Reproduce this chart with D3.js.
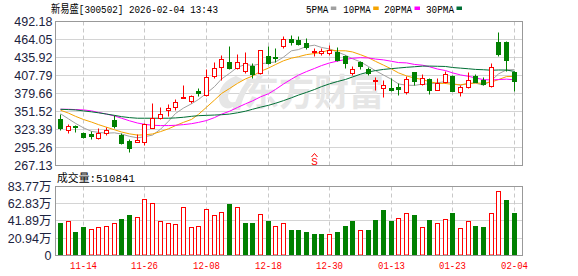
<!DOCTYPE html>
<html><head><meta charset="utf-8">
<script src="https://cdn.jsdelivr.net/npm/d3@7"></script>
<style>body{margin:0;background:#fff}svg{display:block}</style>
</head><body><svg id="c" width="578" height="276"></svg>
<script>
const title = "新易盛[300502] 2026-02-04 13:43";
const volTitle = "成交量:510841";
const maNames = ["5PMA","10PMA","20PMA","30PMA"];
const dates = ["11-11","11-12","11-13","11-14","11-17","11-18","11-19","11-20","11-21","11-24","11-25","11-26","11-27","11-28",
"12-01","12-02","12-03","12-04","12-05","12-08","12-09","12-10","12-11","12-12","12-15","12-16","12-17","12-18","12-19","12-22","12-23","12-24","12-25","12-26","12-29","12-30","12-31",
"01-05","01-06","01-07","01-08","01-09","01-12","01-13","01-14","01-15","01-16","01-19","01-20","01-21","01-22","01-23","01-26","01-27","01-28","01-29","01-30",
"02-02","02-03","02-04"];
const open  = [339.8,321.6,328.8,317.9,314.8,309.0,316.9,338.2,314.3,305.4,303.8,303.8,325.2,340.3,353.3,357.5,372.5,366.9,382.5,376.8,405.9,420.0,428.3,419.0,413.8,421.6,411.1,438.2,436.2,452.8,464.8,462.2,458.0,443.4,442.9,442.4,444.0,437.2,411.1,427.8,416.4,398.5,387.7,386.7,388.3,381.5,411.7,394.0,401.8,384.1,397.1,407.0,381.5,389.2,406.0,399.7,390.3,458.6,458.6,412.2];
const high  = [347.1,331.4,329.8,319.0,320.0,325.7,326.8,344.5,317.4,308.5,316.3,333.0,364.8,358.5,361.7,369.5,392.9,377.3,386.7,417.4,427.8,439.8,452.8,440.8,444.0,426.8,447.6,452.8,450.2,468.5,470.0,468.5,465.3,450.2,450.2,455.4,451.8,438.8,421.6,429.4,420.5,405.0,399.2,403.4,395.5,406.0,412.5,410.1,402.5,403.4,414.8,407.5,392.9,413.2,410.1,404.9,425.8,474.7,461.7,413.7];
const low   = [322.6,316.9,318.9,309.6,308.0,308.0,314.3,325.2,300.7,287.2,302.8,298.1,324.7,338.7,343.9,353.3,372.1,363.7,375.7,375.7,403.3,399.7,416.4,417.4,411.1,403.3,410.1,424.2,428.3,450.2,455.4,455.4,448.7,437.2,438.8,438.8,429.4,419.0,407.5,417.4,408.5,384.0,373.6,383.0,376.3,378.3,392.9,392.4,377.8,384.1,395.5,382.5,375.7,387.2,396.6,392.9,388.3,437.2,414.8,382.5];
const close = [325.2,328.3,326.2,310.6,312.2,317.4,322.1,328.8,301.2,293.9,305.9,331.4,340.8,347.1,356.5,366.3,373.6,374.7,380.4,404.9,418.4,433.0,419.0,428.3,426.8,409.6,446.6,426.8,435.1,464.3,459.1,456.0,451.8,445.0,444.8,447.6,432.0,426.8,417.4,421.6,411.1,399.5,392.9,384.1,385.6,400.8,398.2,403.4,384.1,395.5,410.1,383.5,389.2,399.7,396.6,394.5,420.5,440.3,431.0,398.7];
const firstPrevClose = 330;
const volume = [38.9,41.3,29.1,34.0,32.4,35.2,36.4,39.7,44.9,48.6,47.0,68.8,64.0,42.1,39.7,38.5,59.1,34.8,36.0,56.7,49.4,53.0,62.7,59.1,39.7,39.7,50.6,41.3,36.0,39.7,30.4,30.4,29.1,25.5,25.5,26.3,29.1,36.4,41.3,31.2,30.4,43.7,55.8,41.3,45.8,51.8,48.6,35.2,43.7,39.7,44.9,51.0,32.8,42.1,36.4,35.2,51.8,78.6,66.8,51.08];
const ma5  = [348,340,333,326,320.5,318.9,317.7,318.2,316.3,312.7,310.4,312.2,314.6,323.8,336.3,348.4,356.9,363.6,370.3,380.0,390.4,402.3,411.1,420.7,425.1,423.3,426.1,427.6,429.0,436.5,446.4,448.3,453.3,455.2,451.6,449.3,444.5,439.5,434.0,429.1,421.8,415.3,408.5,401.8,394.6,392.6,392.3,394.4,394.4,396.4,398.3,395.3,392.5,395.6,395.8,392.7,400.1,410.3,416.6,417.0];
const ma10 = [353.5,349,344,339,335,331,327,323,319.5,316.6,314.7,315.0,316.4,320.1,324.5,329.4,334.6,339.1,347.1,358.2,369.4,379.6,387.4,395.5,402.5,406.9,414.2,419.4,424.9,430.8,434.9,437.2,440.4,442.1,444.0,447.8,446.4,446.4,444.6,440.3,435.5,429.9,424.0,417.9,411.9,407.2,403.8,401.5,398.1,395.5,395.4,393.8,393.4,395.0,396.1,395.5,397.7,401.4,406.1,406.4];
const ma20 = [355,355,354.5,354,352.5,350,347.5,344.5,341,337,333.5,331.5,330,329.5,329.5,330,331,332.5,334.5,337.4,342.0,347.3,351.9,357.8,363.5,368.1,374.4,379.3,386.0,394.5,402.1,408.4,413.9,418.8,423.3,427.4,430.3,432.9,434.7,435.6,435.2,433.5,432.2,430.0,428.0,427.5,425.1,423.9,421.4,417.9,415.5,411.9,408.7,406.5,404.0,401.3,400.8,401.4,402.1,401.0];
const ma30 = [355,354.5,354,352.5,351,349.5,347.5,345.5,343.5,342,341,341,341,341,341,341.5,342.5,344,345,345.5,346,346.5,347.5,349.5,352,355,358.3,361.2,364.4,368.5,373.0,377.2,381.4,385.9,390.4,394.7,398.4,401.6,405.5,409.8,413.3,415.5,417.3,418.5,419.5,420.6,421.5,422.4,422.5,422.2,421.9,420.3,419.3,418.3,417.3,416.8,416.0,416.4,416.3,414.1];
const priceTicks = ["267.13","295.26","323.39","351.52","379.66","407.79","435.92","464.05","492.18"];
const volTicks = ["0","20.94万","41.89万","62.83万","83.77万"];
const xTickDates = ["11-14","11-26","12-08","12-18","12-30","01-13","01-23","02-04"];
const signals = [{date:"12-26", label:"S"}];

const RED="#ff0000", GREEN="#008000";
const maColors = ["#a0a0a0","#f5a300","#ff00ff","#006f35"];
const svg = d3.select("#c");
const L=55.5, R=522.5, PT=21.5, PB=165.5, VT=186.5, VB=255.5;

const x = d3.scaleBand().domain(dates).range([56.5, 518.2]);
const cx = d => Math.round(x(d) + x.bandwidth()/2 - 0.5);
const pv = priceTicks.map(Number);
const y = d3.scaleLinear().domain([pv[0], pv[pv.length-1]]).range([PB, PT]);
const vv = volTicks.map(s => parseFloat(s));
const yv = d3.scaleLinear().domain([vv[0], vv[vv.length-1]]).range([VB, VT]);
const py = v => Math.round(y(v)-0.5)+0.5;

// grid
const g = svg.append("g");
pv.slice(1,-1).forEach(v => g.append("line").attr("x1",L).attr("x2",R).attr("y1",py(v)).attr("y2",py(v)).attr("stroke","#d4d4d4"));
vv.slice(1,-1).forEach(v => { const yy=Math.round(yv(v)-0.5)+0.5; g.append("line").attr("x1",L).attr("x2",R).attr("y1",yy).attr("y2",yy).attr("stroke","#d4d4d4"); });
xTickDates.forEach(d => {
  const xx = cx(d)+0.5;
  [[PT,PB],[VT,VB]].forEach(([a,b]) => g.append("line").attr("x1",xx).attr("x2",xx).attr("y1",a).attr("y2",b)
    .attr("stroke","#c8c8c8").attr("stroke-dasharray","4,3"));
});

// watermark
const wm = svg.append("g").attr("fill","#e6e6e6");
wm.append("path").attr("d","M236,76 C222,80 214,96 222,106 C228,112 238,106 240,98 C236,104 228,104 228,96 C230,88 236,82 244,80 Z M246,82 C240,90 236,100 232,110 L240,110 C242,100 246,90 252,84 Z");
wm.append("text").attr("x",244).attr("y",106).attr("font-family","Noto Sans CJK SC").attr("font-weight","bold")
  .attr("font-size",37).attr("textLength",140).attr("lengthAdjust","spacingAndGlyphs").text("东方财富");

// MA lines
const mas = [ma5, ma10, ma20, ma30];
mas.forEach((arr,k) => {
  svg.append("path").datum(arr).attr("fill","none").attr("stroke",maColors[k]).attr("stroke-width",1)
    .attr("d", d3.line().x((d,i)=>cx(dates[i])+0.5).y(d=>y(d)));
});

// candles
const cg = svg.append("g");
dates.forEach((d,i) => {
  const up = close[i] >= open[i];
  const col = up ? RED : GREEN;
  const xx = cx(d);
  cg.append("line").attr("x1",xx+0.5).attr("x2",xx+0.5).attr("y1",py(high[i])).attr("y2",py(low[i])).attr("stroke",col);
  const top = py(Math.max(open[i],close[i])), bot = py(Math.min(open[i],close[i]));
  if (up) {
    cg.append("rect").attr("x",xx-2+0.5).attr("y",top).attr("width",4).attr("height",Math.max(1,bot-top))
      .attr("fill","#fff").attr("stroke",col);
  } else {
    cg.append("rect").attr("x",xx-2).attr("y",top-0.5).attr("width",5).attr("height",Math.max(1,bot-top+1)).attr("fill",col);
  }
});

// volume bars
const vg = svg.append("g");
dates.forEach((d,i) => {
  const prev = i===0 ? firstPrevClose : close[i-1];
  const up = close[i] >= prev;
  const xx = cx(d);
  const t = Math.round(yv(volume[i]));
  if (up) vg.append("rect").attr("x",xx-2+0.5).attr("y",t+0.5).attr("width",4).attr("height",VB-t-1).attr("fill","#fff").attr("stroke",RED);
  else vg.append("rect").attr("x",xx-2).attr("y",t).attr("width",5).attr("height",VB-t).attr("fill",GREEN);
});

// signal
signals.forEach(s => {
  const xx = cx(s.date)+0.5;
  svg.append("path").attr("d",`M${xx-3},157 L${xx},153.5 L${xx+3},157`).attr("fill","none").attr("stroke",RED);
  svg.append("text").attr("x",xx).attr("y",165).attr("text-anchor","middle").attr("fill",RED)
    .attr("font-family","Liberation Mono").attr("font-size",11).text(s.label);
});

// borders
svg.append("rect").attr("x",L).attr("y",PT).attr("width",R-L).attr("height",PB-PT).attr("fill","none").attr("stroke","#999");
svg.append("rect").attr("x",L).attr("y",VT).attr("width",R-L).attr("height",VB-VT).attr("fill","none").attr("stroke","#999");

// axes
const axFont = sel => sel.selectAll("text").attr("font-family","Liberation Sans, Arial").attr("font-size",12.5).attr("fill","#1c2340");
const ya = svg.append("g").attr("transform",`translate(${L},0)`)
  .call(d3.axisLeft(y).tickValues(pv).tickFormat((d,i)=>priceTicks[i]).tickSize(0).tickPadding(3));
ya.select(".domain").remove(); axFont(ya);
const va = svg.append("g").attr("transform",`translate(${L},0)`)
  .call(d3.axisLeft(yv).tickValues(vv).tickFormat((d,i)=>volTicks[i]).tickSize(0).tickPadding(4));
va.select(".domain").remove(); axFont(va);
va.selectAll("text").attr("font-family","Liberation Sans, Noto Sans CJK SC");
const xa = svg.append("g").attr("transform",`translate(0,${VB})`)
  .call(d3.axisBottom(x).tickValues(xTickDates).tickSize(0).tickPadding(6));
xa.select(".domain").remove();
xa.selectAll(".tick").attr("transform", d => `translate(${cx(d)+0.5},0)`);
xa.selectAll("text").attr("font-family","Liberation Mono").attr("font-size",11).attr("fill",RED)
  .attr("textLength",27).attr("lengthAdjust","spacingAndGlyphs");

// titles
svg.append("text").attr("x",51).attr("y",13.3).attr("font-family","Liberation Mono, Noto Sans CJK SC").attr("font-size",11)
  .attr("textLength",167).attr("lengthAdjust","spacingAndGlyphs").attr("fill","#000").text(title);
svg.append("text").attr("x",57).attr("y",181.5).attr("font-family","Liberation Mono, Noto Sans CJK SC").attr("font-size",11)
  .attr("textLength",78).attr("lengthAdjust","spacingAndGlyphs").attr("fill","#000").text(volTitle);

// legend
const legX = [306, 343.3, 384.3, 426];
const legW = [22.3, 27.4, 27.7, 28];
maNames.forEach((n,k) => {
  svg.append("text").attr("x",legX[k]).attr("y",13.3).attr("font-family","Liberation Mono").attr("font-size",10.5)
    .attr("textLength",legW[k]).attr("lengthAdjust","spacingAndGlyphs").attr("fill","#000").text(n);
  svg.append("rect").attr("x",legX[k]+legW[k]+2.5).attr("y",6.5).attr("width",5.5).attr("height",3.5).attr("fill",maColors[k]);
});
</script></body></html>
